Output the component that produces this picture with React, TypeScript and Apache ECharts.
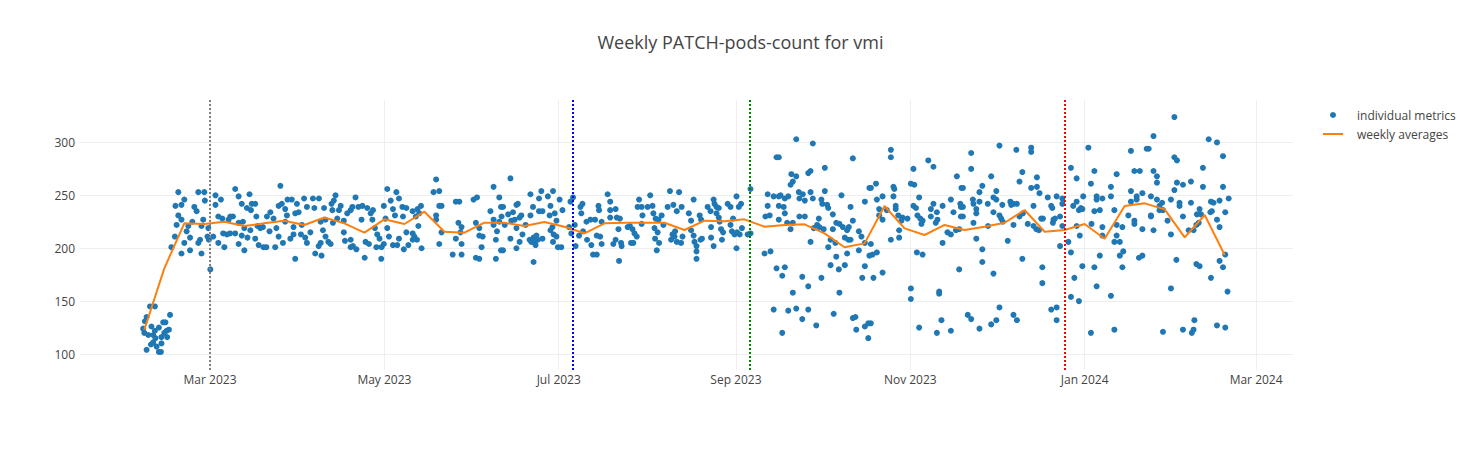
import React, { useEffect, useRef } from "react";
import * as echarts from "echarts";

// ---------- data ----------
const FIRST_WEEK = "2023-02-06"; // weekly points start (Mondays)

// individual metrics: [days since 2023-02-06, value]
const febMar: number[][] = [
  [0.8,135],[0.2,131],[-0.4,124],[0,120],[1.4,118],[2,145],[3.7,145],[2.5,126],[3.1,118],[3.9,115],[4.3,107],[5.1,102],[5.8,102],[6,110],[6.6,130],[7.4,130],[7.8,122],[8.6,123],[9,137],[8,116],[0.8,104],[2.3,109],[3.7,122],[5.1,125],[7,120],[6,116],[3.1,111],
  [11.9,253],[18.9,253],[21,253],[14,246],[10.9,240],[13,241],[17.5,239],[21.2,245],[24.9,250],[26.8,246],[24.9,241],[11.9,231],[13,227],[18.3,235],[16.8,225],[20.6,227],[11.3,222],[15.4,221],[20,221],[22.4,219],[25.9,230],[27.3,228],[14.8,216],[10.7,211],[16,210],[19.5,208],[22.1,211],[24.1,211],[27.6,214],[14,205],[18.9,205],[25.9,205],[28,201],[9.5,201],[13,195],[16,198],[20,195],[23.1,180],[22.6,208],
];
const aprMay: number[][] = [
  [31.8,256],[33,249],[34.1,242],[36.8,251],[37.6,242],[38.8,242],[35.9,238],[37.3,236],[30.1,230],[29.5,227],[31,230],[33,224],[34.5,225],[35,219],[37.1,217],[39.2,230],[39.6,221],[40.6,219],[41.5,220],[42.9,230],[44.1,234],[45.2,228],[46.2,219],[43.8,216],[47.6,259],[47,240],[48.1,242],[49.3,237],[50.1,246],[51.6,246],[53.4,242],[54,234],[55.9,247],[59,247],[56.9,239],[59.5,238],[49.9,231],[52.8,233],[49.3,225],[52.2,220],[55.1,222],[28.9,213],[31.8,214],[34.1,212],[36.1,210],[38.8,209],[40,203],[41.7,201],[45.8,201],[47,211],[48.5,205],[51.1,209],[52.2,213],[54.8,213],[56.3,210],[58.1,215],[56.9,205],[33,204],[35,198],[52.8,190],[59.8,195],[61,202],[30,214],[42.7,201],
  [61.1,247],[66.3,245],[66.9,250],[65.5,242],[68.7,240],[68.1,236],[62.9,238],[65.8,236],[73.9,248],[74.9,239],[76.3,240],[78,238],[79.2,233],[80,236],[71,233],[72.2,236],[72.8,239],[85,256],[88.2,253],[89.1,247],[86.2,245],[83.8,240],[87,237],[90.3,239],[91.7,238],[87.7,231],[84.4,228],[90.5,230],[76,227],[79.8,227],[69.8,226],[67.5,228],[63.4,227],[61.7,225],[66,224],[62.5,217],[63.4,211],[64.4,206],[65.2,204],[61.7,205],[62,193],[69.8,215],[70.2,207],[72.2,208],[72.2,201],[73,202],[74.2,199],[77.4,206],[78.6,204],[80.7,219],[81.5,213],[82.3,209],[81.2,201],[83,201],[83.8,204],[82.9,190],[77.1,191],[85.6,211],[85,219],[87,203],[88.5,203],[89.1,209],[90.8,199],[91.7,215],[92.4,203],
];
const junJul: number[][] = [
  [93.9,235],[95.6,237],[96.8,240],[96.2,233],[95,230],[95.9,221],[93.9,214],[94.5,211],[95.4,208],[93.9,208],[97,200],[102.1,265],[101.2,253],[103.2,254],[103.2,240],[104,240],[102.1,231],[102.1,227],[104,215],[103.2,204],[109,244],[110.2,244],[109.9,224],[111,220],[110.6,215],[109,209],[111,204],[107.9,194],[111,194],[115.2,246],[116.4,248],[116,224],[117.2,219],[117.2,212],[118.4,211],[118,201],[116,191],[117.2,190],[122.2,258],[124.2,248],[121.1,235],[122.2,227],[124.8,239],[122.2,222],[123.4,216],[124.2,225],[125,230],[123,208],[124.8,198],[123,190],
  [125.5,239],[127.3,232],[126.1,222],[128.1,266],[130.2,241],[130.7,242],[129,234],[128.4,226],[129.6,227],[130.2,219],[131.3,229],[131.9,231],[128.1,209],[130.2,200],[131.3,206],[132.3,213],[125.5,198],[135.1,251],[136,239],[135.1,231],[133.4,222],[134.8,208],[135.4,206],[136.2,210],[136.6,205],[137.2,212],[136.9,203],[137.7,208],[136.2,187],[138.1,247],[138.9,254],[138.1,235],[139.3,235],[139.3,209],[141.2,249],[143,254],[141.8,231],[142.1,240],[143.6,233],[144.2,226],[142.8,220],[142.1,217],[143.2,213],[144.2,211],[144.7,201],[145.9,201],[145.3,246],[146.3,236],[143,206],[149.1,244],[150,248],[148.6,220],[150.6,222],[149.4,214],[150.9,202],[152.6,239],[153.3,242],[152.9,233],[154.7,225],[156.1,227],[154.9,208],[156.4,203],[157,194],[152.1,212],[153.5,216],
];
const augSep: number[][] = [
  [158.9,240],[159.1,236],[157.7,227],[160,225],[158.3,212],[159.5,211],[160,204],[158.3,194],[162.1,251],[163,244],[163,236],[163,229],[164.9,237],[165.3,229],[166.4,228],[165.9,218],[164.9,208],[164.1,204],[166.8,205],[167,202],[166.1,188],[169.1,220],[169.9,221],[170.8,218],[171.5,214],[172.3,211],[170.3,205],[171.1,205],[173.1,246],[172.6,239],[174,239],[174.3,231],[174,223],[177,250],[176.1,239],[177.8,240],[178.1,233],[178.9,228],[179.9,227],[178.5,219],[179.6,215],[178.7,209],[180.1,205],[179.3,198],[181,231],[181.6,222],[183.9,254],[187.1,253],[183.1,239],[185.1,241],[186.3,235],[188,239],[185.7,216],[184.8,213],[184.3,208],[186.3,206],[187.8,205],[188.3,211],[185.5,211],
  [192.2,246],[190.5,233],[191.3,226],[191.3,217],[192.2,212],[192.5,206],[193.2,202],[193.2,197],[193.2,190],[194.3,231],[194.8,227],[194.6,208],[195.1,209],[197.1,239],[198.1,235],[198.3,220],[198.3,210],[199.2,246],[199.5,242],[200.2,239],[201,238],[200.2,233],[201,229],[201.3,225],[201.8,218],[202.5,215],[199.2,202],[202.1,208],[204.1,242],[205.1,239],[206,228],[205.1,222],[205.6,216],[206.5,213],[207.2,249],[208.8,242],[208,239],[207.4,215],[208.3,213],[209.1,219],[207.2,200],[211.1,213],[212.1,256],[212.1,214],[218.1,251],[220.2,249],[217.3,230],[218.1,240],[218.8,231],[222,249],[221.2,286],[222,240],[217,195],[219.1,197],[221.2,181],[220.2,142],
];
const octNov: number[][] = [
  [228.1,303],[233.9,299],[222,286],[238.1,276],[247.9,285],[226.4,270],[228.1,268],[226.9,263],[226.1,260],[232.3,271],[233.1,273],[229,253],[230.4,251],[233.1,253],[238.1,254],[222.6,250],[224.1,247],[225.3,249],[229.2,247],[231.1,245],[233.9,247],[236.9,246],[237.2,242],[238.9,241],[239.3,238],[243.9,250],[247.1,239],[252.1,244],[253.7,257],[223.7,239],[222,227],[224.1,233],[229.2,230],[231.1,230],[236,228],[240.9,232],[242.1,224],[243.2,223],[244.4,220],[247.9,226],[245.9,217],[246.5,220],[224.9,224],[226.1,218],[226.9,224],[234.2,219],[235.4,222],[236.2,220],[237.7,218],[240.9,218],[240.1,208],[239.3,201],[241.8,205],[245.1,210],[246.3,208],[247.1,208],[250,216],[250.9,211],[252.1,205],[250,198],[253.7,193],[233.1,206],[245.9,195],[242.1,192],[240.1,184],[245.1,184],[243,180],[252.1,183],[224.1,182],[223.2,174],[236.9,172],[230.2,173],[251.2,172],[232.3,164],[243.2,158],[226.9,158],[241.2,138],[225.3,141],[228.1,143],[232.3,142],[230.2,133],[223.2,120],[235.1,127],[247.9,134],[249.1,123],[248.8,135],[252.1,126],[253.3,129],[253.3,115],
  [261.2,293],[261.2,286],[274.3,283],[276.1,277],[269.1,275],[284.3,268],[256,261],[262.1,258],[262.4,256],[268.2,261],[269.4,260],[258.3,249],[262.1,249],[271.1,248],[282.2,246],[285.9,257],[256.3,246],[257.1,237],[262.9,240],[262.9,237],[269.1,240],[270,238],[276.1,242],[279.3,240],[275.2,237],[277.3,234],[283.1,234],[285.5,242],[285.7,239],[254.2,257],[257.1,231],[258.3,227],[259.8,236],[263.8,231],[265.3,229],[264.9,226],[267,228],[270.5,231],[271.5,228],[272.3,226],[275.2,230],[277.5,227],[276.9,224],[285.7,230],[271.9,223],[281,215],[282.2,213],[284,217],[285.1,218],[264.1,217],[264.1,210],[261.2,208],[254.2,204],[279.3,205],[270.3,196],[272.3,194],[256.3,196],[254.8,194],[258.3,177],[255.1,172],[285.1,180],[268.2,162],[268.2,152],[278.1,159],[278.1,157],[271.1,125],[278.9,132],[277.3,120],[282.2,122],[254.2,129],
];
const decFeb: number[][] = [
  [289.3,290],[299.2,297],[305.1,293],[310.3,295],[310.3,291],[289.3,275],[296.3,268],[307.2,272],[312.3,267],[306.2,263],[293.2,259],[286.4,257],[292.2,253],[298.1,254],[310.3,257],[312.3,258],[313.2,252],[316.1,248],[289.9,246],[290.1,242],[292.2,244],[297.1,248],[298.1,246],[295.1,242],[300.2,241],[303,244],[304.1,242],[303.3,241],[305.3,242],[311.1,240],[317.3,240],[317.7,238],[286.4,239],[291.1,237],[291.1,233],[297.1,234],[299.2,231],[299.8,228],[286.4,230],[306.2,230],[307.4,233],[313.8,228],[314.4,228],[318.1,227],[300.4,225],[309.1,223],[311.1,221],[312.1,218],[313,217],[290.1,224],[295.2,221],[304.1,222],[317.9,224],[291.1,209],[302.1,207],[293.2,199],[293.2,187],[307.2,190],[314.2,182],[297.1,176],[314.2,167],[299.2,144],[304.1,137],[305.3,132],[298.1,132],[317.3,142],[288.1,137],[289.3,133],[292.2,124],[296.3,128],
  [330.3,295],[345.2,292],[350.7,294],[324.2,276],[332.4,273],[340.2,270],[346.4,273],[348.3,273],[326.2,266],[331.2,261],[338.2,258],[345.2,254],[349.2,252],[319.2,249],[321.2,247],[328.5,249],[333.2,249],[335.2,247],[333.2,246],[338.2,249],[347.2,249],[347.2,246],[321.2,242],[326.2,244],[325,240],[327.7,238],[327,236],[328.2,237],[332.4,235],[334.3,236],[339.4,236],[345.2,244],[318.6,228],[320.4,230],[344.3,231],[346.4,226],[346.4,223],[331.4,223],[326.2,221],[340.2,222],[342.2,220],[335.2,220],[349.2,218],[321.2,221],[327.3,212],[335.2,212],[340.2,212],[339.4,206],[341.3,206],[320.4,202],[323.3,206],[324.2,196],[334.3,193],[341.3,193],[342.5,197],[348,191],[349.2,193],[328.2,183],[332.4,182],[342.2,182],[325.4,172],[333.2,164],[324.2,154],[327,150],[338.2,155],[319.2,144],[319.2,132],[331.2,120],[339.4,123],
  [360.4,324],[353.1,306],[351.4,294],[372.4,303],[375.3,300],[360.4,286],[361.3,283],[377.4,287],[353.1,273],[354.3,268],[370.4,276],[354.3,262],[361.3,262],[363.4,260],[366.2,263],[360.4,255],[370.4,258],[377.4,258],[352.2,249],[354.3,246],[359.2,246],[356.1,243],[362.2,243],[366.2,243],[373.2,244],[374.1,243],[376.2,245],[379.4,247],[355.2,240],[362.2,240],[369.2,237],[355.2,236],[356.4,236],[373.5,235],[378.2,234],[352.2,231],[352.2,230],[363.4,230],[368.3,232],[369.7,232],[373,234],[358,226],[375.3,227],[368.9,224],[368.1,222],[376.2,220],[353.1,217],[365.4,217],[367.1,217],[359.2,213],[361.1,189],[368.1,185],[369.2,183],[376.2,188],[377.4,182],[378.2,194],[373.2,172],[359.2,162],[379,159],[367.4,132],[367.1,123],[366.5,120],[363.4,123],[356.4,121],[375.3,127],[378.2,125],
];

// weekly averages, one per week starting FIRST_WEEK
const weeklyAverages: number[] = [
  123, 181, 223.5, 223, 225, 221, 223.5, 226, 222, 229, 223.5, 214.7, 227.3, 222.9, 234.5,
  215.6, 214.7, 224.1, 224.1, 221, 224.8, 220.3, 214.1, 223.5, 224.1, 224.1, 224.1, 217.2,
  226, 225.4, 227.3, 220.3, 222, 222.6, 214.1, 200.9, 204.6, 239.9, 218.8, 212.5, 222, 217.2,
  220.3, 224.1, 236.1, 215.6, 217.2, 222.9, 209, 239.9, 242.4, 236.7, 210.3, 231.4, 193.6,
];

const xTickDates = ["2023-03-01", "2023-05-01", "2023-07-01", "2023-09-01", "2023-11-01", "2024-01-01", "2024-03-01"];
const xTickLabels = ["Mar 2023", "May 2023", "Jul 2023", "Sep 2023", "Nov 2023", "Jan 2024", "Mar 2024"];
const yTicks = [100, 150, 200, 250, 300];

// vertical event markers
const markerDates = ["2023-03-01", "2023-07-06", "2023-09-06", "2023-12-25"];
const markerColors = ["#808080", "#0000ff", "#008000", "#ff0000"];

// ---------- helpers ----------
const DAY = 86400000;
const utc = (s: string) => Date.parse(s + "T00:00:00Z");
const T0 = utc(FIRST_WEEK);
const toPts = (seg: number[][]) => seg.map(([d, v]) => [T0 + d * DAY, v]);

const FONT = '"Open Sans", verdana, arial, sans-serif';

export default function App() {
  const ref = useRef<HTMLDivElement>(null);
  useEffect(() => {
    if (!ref.current) return;
    const chart = echarts.init(ref.current, undefined, { renderer: "svg" });
    const scatterData = [febMar, aprMay, junJul, augSep, octNov, decFeb].flatMap(toPts);
    const weeklyData = weeklyAverages.map((v, i) => [T0 + i * 7 * DAY, v]);
    const tickTs = xTickDates.map(utc);
    const xMin = Date.UTC(2023, 0, 14, 12);
    const xMax = xMin + 424.4 * DAY;

    chart.setOption({
      animation: false,
      backgroundColor: "#fff",
      textStyle: { fontFamily: FONT },
      title: {
        text: "Weekly PATCH-pods-count for vmi",
        left: "center",
        top: 33,
        padding: 0,
        textStyle: { fontSize: 18, fontWeight: "normal", color: "#444", fontFamily: FONT },
      },
      legend: {
        orient: "vertical",
        left: 1323,
        top: 108,
        itemWidth: 20,
        itemHeight: 6,
        itemGap: 5,
        padding: 0,
        textStyle: { fontSize: 12, color: "#444", fontFamily: FONT, lineHeight: 14, padding: [0, 0, 0, 9] },
        data: [
          { name: "individual metrics", icon: "circle" },
          { name: "weekly averages", icon: "path://M0,0L20,0L20,2L0,2Z" },
        ],
      },
      grid: { left: 80, right: 188, top: 100, bottom: 80 },
      xAxis: {
        type: "value",
        min: xMin,
        max: xMax,
        axisLine: { show: false },
        axisTick: { show: false },
        splitLine: { show: false },
        axisLabel: {
          customValues: tickTs,
          color: "#444",
          fontSize: 12,
          fontFamily: FONT,
          margin: 3,
          formatter: (val: number) => {
            const i = tickTs.findIndex((t) => Math.abs(t - val) < DAY);
            return i >= 0 ? xTickLabels[i] : "";
          },
        },
      },
      yAxis: {
        type: "value",
        min: 84.9,
        max: 340.1,
        axisLine: { show: false },
        axisTick: { show: false },
        splitLine: { show: false },
        axisLabel: {
          customValues: yTicks,
          color: "#444",
          fontSize: 12,
          fontFamily: FONT,
          margin: 5,
        },
      },
      series: [
        {
          name: "grid",
          type: "line",
          data: [],
          z: 0,
          silent: true,
          markLine: {
            z: 0,
            silent: true,
            symbol: ["none", "none"],
            label: { show: false },
            lineStyle: { color: "#eeeeee", width: 1, type: "solid" },
            data: [
              ...yTicks.map((v) => ({ yAxis: v })),
              ...tickTs.map((t) => ({ xAxis: t })),
            ],
          },
        },
        {
          name: "individual metrics",
          type: "scatter",
          data: scatterData,
          symbol: "circle",
          symbolSize: 6,
          itemStyle: { color: "#1f77b4", opacity: 1 },
          z: 2,
        },
        {
          name: "weekly averages",
          type: "line",
          data: weeklyData,
          symbol: "none",
          showSymbol: false,
          lineStyle: { color: "#ff7f0e", width: 2 },
          itemStyle: { color: "#ff7f0e" },
          z: 3,
        },
        {
          name: "markers",
          type: "line",
          data: [],
          z: 4,
          silent: true,
          markLine: {
            z: 5,
            silent: true,
            symbol: ["none", "none"],
            label: { show: false },
            data: markerDates.map((d, i) => ({
              xAxis: utc(d),
              lineStyle: { color: markerColors[i], width: 2, type: [2, 2] },
            })),
          },
        },
      ],
    });
    return () => chart.dispose();
  }, []);
  return (
    <div
      ref={ref}
      style={{ position: "fixed", left: 0, top: 0, width: 1481, height: 450, background: "#fff" }}
    />
  );
}
